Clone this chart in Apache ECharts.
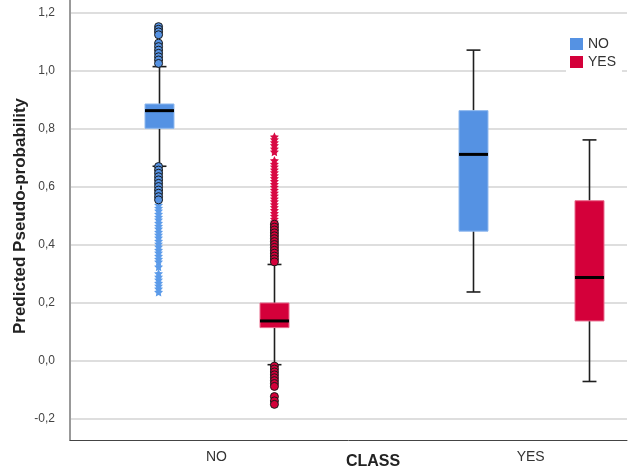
<!DOCTYPE html>
<html><head><meta charset="utf-8">
<script src="https://cdn.jsdelivr.net/npm/echarts@6/dist/echarts.min.js"></script>
<style>html,body{margin:0;padding:0;background:#fff}#chart{width:628px;height:470px}</style>
</head><body><div id="chart"></div>
<script>
// ---- data ----
const categories = ['NO', 'YES'];
const seriesNames = ['NO', 'YES'];
const yTicks = [-0.2, 0.0, 0.2, 0.4, 0.6, 0.8, 1.0, 1.2];
// [lower whisker, Q1, median, Q3, upper whisker] per category
const boxSeriesNO = [[0.670, 0.801, 0.862, 0.885, 1.014], [0.236, 0.446, 0.711, 0.862, 1.071]];
const boxSeriesYES = [[-0.015, 0.113, 0.136, 0.198, 0.331], [-0.073, 0.136, 0.286, 0.551, 0.761]];
// outliers (circles) and extremes (stars), category NO only
const outliersNO = [1.152, 1.143, 1.134, 1.124, 1.095, 1.083, 1.071, 1.060, 1.048, 1.037, 1.025,
  0.669, 0.657, 0.646, 0.634, 0.623, 0.611, 0.600, 0.588, 0.577, 0.565, 0.554];
const extremesNO = [0.536, 0.526, 0.516, 0.505, 0.495, 0.485, 0.474, 0.464, 0.454, 0.443, 0.433, 0.423,
  0.412, 0.402, 0.392, 0.381, 0.371, 0.360, 0.350, 0.340, 0.323, 0.300, 0.288, 0.278, 0.267, 0.257, 0.247, 0.236];
const outliersYES = [0.470, 0.460, 0.450, 0.440, 0.430, 0.420, 0.410, 0.400, 0.390, 0.380, 0.370, 0.360, 0.350, 0.340,
  -0.020, -0.030, -0.040, -0.050, -0.060, -0.070, -0.080, -0.090, -0.125, -0.140, -0.152];
const extremesYES = [0.772, 0.762, 0.752, 0.742, 0.730, 0.720, 0.690, 0.678, 0.668, 0.658, 0.648, 0.638, 0.628,
  0.618, 0.608, 0.598, 0.588, 0.578, 0.568, 0.558, 0.548, 0.538, 0.528, 0.518, 0.508, 0.498, 0.488, 0.478];

// ---- layout constants ----
const catCenters = [26.3, 82.7];
const seriesOffset = [-10.4, 10.4];
const colors = ['#5592e3', '#d4003a'];
const edgeColors = ['#8cb7ee', '#e8668a'];
const starColors = ['#5c9be9', '#d80a44'];
const FONT = 'Liberation Sans, Arial, sans-serif';
const STAR = 'path://M0,-10 L2.9,-4 L9.51,-3.09 L4.7,1.5 L5.88,8.09 L0,5 L-5.88,8.09 L-4.7,1.5 L-9.51,-3.09 L-2.9,-4 Z';

function boxData(stats, si) {
  return stats.map((s, ci) => [catCenters[ci] + seriesOffset[si]].concat(s));
}
function pts(vals, si, ci) {
  return vals.map(v => [catCenters[ci] + seriesOffset[si], v]);
}
function makeRender(si) {
  return function (params, api) {
    const x = api.value(0);
    const lo = api.coord([x, api.value(1)]);
    const q1 = api.coord([x, api.value(2)]);
    const md = api.coord([x, api.value(3)]);
    const q3 = api.coord([x, api.value(4)]);
    const hi = api.coord([x, api.value(5)]);
    const bw = api.size([5.2, 0])[0];
    const cw = api.size([2.5, 0])[0];
    const cx = Math.round(lo[0]) + 0.5;
    const ws = { stroke: '#1e1e1e', lineWidth: 1.6 };
    return {
      type: 'group', children: [
        { type: 'line', shape: { x1: cx, y1: hi[1], x2: cx, y2: q3[1] }, style: ws },
        { type: 'line', shape: { x1: cx, y1: q1[1], x2: cx, y2: lo[1] }, style: ws },
        { type: 'line', shape: { x1: cx - cw / 2, y1: hi[1], x2: cx + cw / 2, y2: hi[1] }, style: ws },
        { type: 'line', shape: { x1: cx - cw / 2, y1: lo[1], x2: cx + cw / 2, y2: lo[1] }, style: ws },
        { type: 'rect', shape: { x: cx - bw / 2, y: q3[1], width: bw, height: q1[1] - q3[1] },
          style: { fill: colors[si], stroke: edgeColors[si], lineWidth: 1 } },
        { type: 'line', shape: { x1: cx - bw / 2, y1: md[1], x2: cx + bw / 2, y2: md[1] },
          style: { stroke: '#000', lineWidth: 3 } }
      ]
    };
  };
}

const chart = echarts.init(document.getElementById('chart'), null, { renderer: 'canvas' });
const fmt1 = v => v.toFixed(1).replace('.', ',');

chart.setOption({
  animation: false,
  backgroundColor: '#fff',
  grid: { left: 70, right: 1, top: 0, bottom: 30, containLabel: false, outerBoundsMode: 'none' },
  legend: {
    orient: 'vertical', left: 566, top: 33, padding: [4, 6, 4, 4],
    backgroundColor: '#fff', itemWidth: 13, itemHeight: 12, itemGap: 4, icon: 'rect',
    data: seriesNames,
    textStyle: { fontFamily: FONT, fontSize: 14, color: '#333', lineHeight: 12 },
    selectedMode: false
  },
  xAxis: {
    type: 'value', min: 0, max: 100,
    axisLine: { show: true, onZero: false, lineStyle: { color: '#444', width: 1 } },
    axisTick: { show: false },
    splitLine: { show: false },
    axisLabel: {
      customValues: catCenters, margin: 10,
      formatter: v => categories[catCenters.findIndex(c => Math.abs(c - v) < 1e-6)],
      fontFamily: FONT, fontSize: 14, color: '#333'
    },
    name: 'CLASS', nameLocation: 'middle', nameGap: 14, nameMoveOverlap: false,
    nameTextStyle: { fontFamily: FONT, fontSize: 16, fontWeight: 'bold', color: '#222', padding: [0, 0, 0, 49] }
  },
  yAxis: {
    type: 'value', min: -0.275, max: 1.244,
    axisLine: { show: true, lineStyle: { color: '#999', width: 2 } },
    axisTick: { show: false, customValues: yTicks },
    splitLine: { show: true, lineStyle: { color: '#d3d3d3', width: 1.5 } },
    axisLabel: { customValues: yTicks, formatter: fmt1, margin: 15, fontFamily: FONT, fontSize: 12, color: '#444' },
    name: 'Predicted Pseudo-probability', nameLocation: 'middle', nameGap: 41, nameMoveOverlap: false,
    nameTextStyle: { fontFamily: FONT, fontSize: 17, fontWeight: 'bold', color: '#222', padding: [0, 0, 0, 8] }
  },
  series: [
    { name: 'NO', type: 'custom', renderItem: makeRender(0), itemStyle: { color: colors[0] },
      encode: { x: 0, y: [1, 2, 3, 4, 5] }, data: boxData(boxSeriesNO, 0), z: 2 },
    { name: 'YES', type: 'custom', renderItem: makeRender(1), itemStyle: { color: colors[1] },
      encode: { x: 0, y: [1, 2, 3, 4, 5] }, data: boxData(boxSeriesYES, 1), z: 2 },
    { name: 'NO', type: 'scatter', symbol: STAR, symbolSize: 9, z: 3,
      itemStyle: { color: starColors[0], opacity: 1 }, data: pts(extremesNO, 0, 0) },
    { name: 'NO', type: 'scatter', symbol: 'circle', symbolSize: 8, z: 4,
      itemStyle: { color: colors[0], borderColor: '#1a1a1a', borderWidth: 1, opacity: 1 }, data: pts(outliersNO, 0, 0) },
    { name: 'YES', type: 'scatter', symbol: STAR, symbolSize: 9, z: 3,
      itemStyle: { color: starColors[1], opacity: 1 }, data: pts(extremesYES, 1, 0) },
    { name: 'YES', type: 'scatter', symbol: 'circle', symbolSize: 8, z: 4,
      itemStyle: { color: colors[1], borderColor: '#1a1a1a', borderWidth: 1, opacity: 1 }, data: pts(outliersYES, 1, 0) }
  ]
});
</script></body></html>
